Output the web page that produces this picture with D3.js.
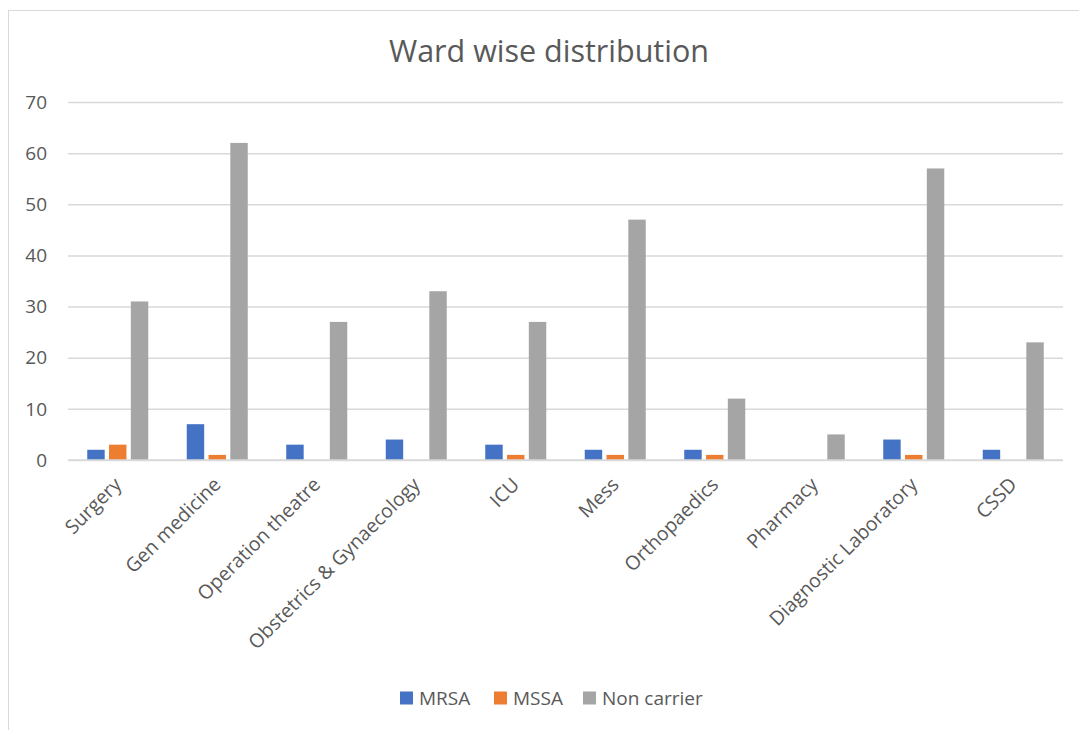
<!DOCTYPE html>
<html lang="en">
<head>
<meta charset="utf-8">
<title>Ward wise distribution</title>
<script src="https://cdn.jsdelivr.net/npm/d3@7"></script>
<style>
  body { margin: 0; background: #fff; }
  text { font-family: "Open Sans", "Noto Sans", sans-serif; fill: #595959; }
  .grid line { stroke: #d9d9d9; stroke-width: 1.5px; }
  .grid path { display: none; }
</style>
</head>
<body>
<div id="chart"></div>
<script>
  // data
  var wards = ["Surgery", "Gen medicine", "Operation theatre", "Obstetrics & Gynaecology",
               "ICU", "Mess", "Orthopaedics", "Pharmacy", "Diagnostic Laboratory", "CSSD"];
  var seriesNames = ["MRSA", "MSSA", "Non carrier"];
  var mrsa = [2, 7, 3, 4, 3, 2, 2, 0, 4, 2];
  var mssa = [3, 1, 0, 0, 1, 1, 1, 0, 1, 0];
  var nonCarrier = [31, 62, 27, 33, 27, 47, 12, 5, 57, 23];
  var yTicks = [0, 10, 20, 30, 40, 50, 60, 70];

  var colors = ["#4472c4", "#ed7d31", "#a5a5a5"];
  var values = [mrsa, mssa, nonCarrier];

  var width = 1079, height = 730;
  var plotLeft = 68, plotRight = 1063, plotTop = 102, plotBottom = 460;

  var svg = d3.select("#chart").append("svg")
      .attr("width", width)
      .attr("height", height);

  // chart frame
  svg.append("rect")
      .attr("x", 8.5).attr("y", 10.5)
      .attr("width", 1100).attr("height", 800)
      .attr("fill", "none")
      .attr("stroke", "#d9d9d9");

  svg.append("text")
      .attr("x", 549).attr("y", 62)
      .attr("text-anchor", "middle")
      .style("font-size", "30.5px")
      .text("Ward wise distribution");

  var x0 = d3.scaleBand().domain(wards).range([plotLeft, plotRight]);
  var groupW = 61;
  var x1 = d3.scaleBand().domain(seriesNames).range([0, groupW]).paddingInner(0.2);
  var y = d3.scaleLinear().domain([0, 70]).range([plotBottom, plotTop]);

  // gridlines
  svg.append("g")
      .attr("class", "grid")
      .attr("transform", "translate(" + plotLeft + ",0)")
      .call(d3.axisLeft(y).tickValues(yTicks).tickSize(-(plotRight - plotLeft)).tickFormat(""));

  // y labels
  svg.append("g").selectAll("text")
    .data(yTicks)
    .enter().append("text")
      .attr("x", 47)
      .attr("y", function(d) { return y(d); })
      .attr("dy", "0.35em")
      .attr("text-anchor", "end")
      .style("font-size", "19px")
      .text(function(d) { return d; });

  // bars
  var rows = wards.map(function(w, i) {
    return seriesNames.map(function(s, j) { return { ward: w, series: s, value: values[j][i], color: colors[j] }; });
  });

  svg.append("g").selectAll("g")
    .data(rows)
    .enter().append("g")
      .attr("transform", function(d) { return "translate(" + (x0(d[0].ward) + (x0.bandwidth() - groupW) / 2) + ",0)"; })
    .selectAll("rect")
    .data(function(d) { return d.filter(function(e) { return e.value > 0; }); })
    .enter().append("rect")
      .attr("x", function(d) { return x1(d.series); })
      .attr("y", function(d) { return y(d.value); })
      .attr("width", x1.bandwidth())
      .attr("height", function(d) { return y(0) - y(d.value); })
      .attr("fill", function(d) { return d.color; });

  // redraw baseline over bars
  svg.append("line")
      .attr("x1", plotLeft).attr("x2", plotRight)
      .attr("y1", y(0)).attr("y2", y(0))
      .attr("stroke", "#d9d9d9").attr("stroke-width", 1.5);

  // category labels
  svg.append("g").selectAll("text")
    .data(wards)
    .enter().append("text")
      .attr("transform", function(d) {
        return "translate(" + (x0(d) + x0.bandwidth() / 2) + "," + 481 + ") rotate(-45)";
      })
      .attr("text-anchor", "end")
      .attr("dy", "0.35em")
      .style("font-size", "19.5px")
      .text(function(d) { return d; });

  // legend
  var legendX = [400, 494, 583];
  var legend = svg.append("g").selectAll("g")
    .data(seriesNames)
    .enter().append("g")
      .attr("transform", function(d, i) { return "translate(" + legendX[i] + ",698)"; });

  legend.append("rect")
      .attr("x", 0).attr("y", -6.5)
      .attr("width", 13).attr("height", 13)
      .attr("fill", function(d, i) { return colors[i]; });

  legend.append("text")
      .attr("x", 19)
      .attr("dy", "0.35em")
      .style("font-size", "19px")
      .text(function(d) { return d; });
</script>
</body>
</html>
